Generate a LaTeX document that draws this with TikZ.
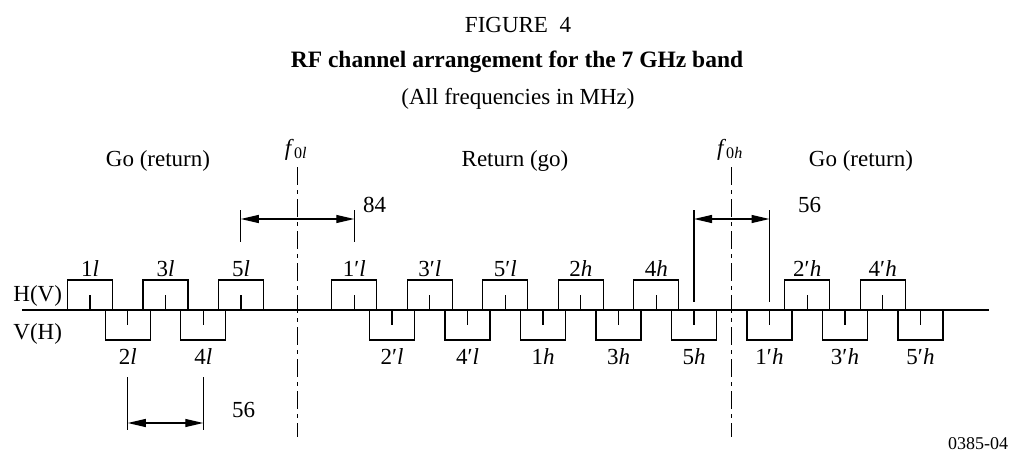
\documentclass[tikz,border=0pt]{standalone}
\usepackage{fontspec}
\setmainfont{Liberation Serif}
\usetikzlibrary{arrows.meta}
\begin{document}
\begin{tikzpicture}[x=1pt,y=-1pt,line width=1.2pt,
  every node/.style={inner sep=0pt,outer sep=0pt,font=\fontsize{23}{27}\selectfont},
  chbox/.style={draw,line width=1.2pt,minimum width=45pt,minimum height=30pt,inner sep=0pt},
  upbox/.style={chbox,anchor=south},
  downbox/.style={chbox,anchor=north},
  dimarrow/.style={{Triangle[length=18pt,width=8pt]}-{Triangle[length=18pt,width=8pt]}},
  axisdash/.style={dash pattern=on 18pt off 5pt on 4pt off 5pt},
  smalltxt/.style={font=\fontsize{18}{22}\selectfont}
]
\useasboundingbox (0,0) rectangle (1010,452);

% titles
\node[anchor=base] (fig) at (518,33) {FIGURE\ \ 4};
\node[anchor=base,font=\fontsize{23.5}{27}\selectfont\bfseries] (ttl) at (517,67) {RF channel arrangement for the 7 GHz band};
\node[anchor=base] (sub) at (518,104) {(All frequencies in MHz)};

% section headings
\node[anchor=base] (go1) at (158,166) {Go (return)};
\node[anchor=base] (ret) at (515,166) {Return (go)};
\node[anchor=base] (go2) at (861,166) {Go (return)};

% polarisation labels
\node[anchor=base east] (hv) at (62,301) {H(V)};
\node[anchor=base east] (vh) at (62,339) {V(H)};

% baseline
\coordinate (bl) at (22,310);
\coordinate (br) at (989,310);
\draw (bl) -- (br);

% upper channels
\foreach \k/\lab [count=\i] in {0/{1\textit{l}},2/{3\textit{l}},4/{5\textit{l}},7/{1′\textit{l}},9/{3′\textit{l}},11/{5′\textit{l}},13/{2\textit{h}},15/{4\textit{h}},19/{2′\textit{h}},21/{4′\textit{h}}}{
  \node[upbox] (u\i) at ({90+37.75*\k},310) {};
  \draw (u\i.south) -- ++(0,-15);
  \node[anchor=base] (ul\i) at ({90+37.75*\k},276) {\lab};
}
% lower channels
\foreach \k/\lab [count=\i] in {1/{2\textit{l}},3/{4\textit{l}},8/{2′\textit{l}},10/{4′\textit{l}},12/{1\textit{h}},14/{3\textit{h}},16/{5\textit{h}},18/{1′\textit{h}},20/{3′\textit{h}},22/{5′\textit{h}}}{
  \node[downbox] (d\i) at ({90+37.75*\k},310) {};
  \draw (d\i.north) -- ++(0,15);
  \node[anchor=base] (dl\i) at ({90+37.75*\k},364) {\lab};
}

% centre frequency axes
\coordinate (f0lt) at (297.5,167);
\coordinate (f0lb) at (297.5,437);
\coordinate (f0ht) at (731.75,167);
\coordinate (f0hb) at (731.75,437);
\draw[axisdash] (f0lt) -- (f0lb);
\draw[axisdash] (f0ht) -- (f0hb);
\node[anchor=base] (f0l) at (296,155) {\textit{f}\textsubscript{0\textit{l}}};
\node[anchor=base] (f0h) at (730,155) {\textit{f}\textsubscript{0\textit{h}}};

% dimension 84
\coordinate (a1) at (240.75,210); \coordinate (a2) at (240.75,242);
\coordinate (a3) at (354.25,210); \coordinate (a4) at (354.25,242);
\draw (a1) -- (a2);
\draw (a3) -- (a4);
\coordinate (a5) at (240.75,219); \coordinate (a6) at (354.25,219);
\draw[dimarrow] (a5) -- (a6);
\node[anchor=base west] (l84) at (363,212) {84};

% dimension 56 (lower left)
\coordinate (b1) at (127.75,377); \coordinate (b2) at (127.75,430);
\coordinate (b3) at (203.25,377); \coordinate (b4) at (203.25,430);
\draw (b1) -- (b2);
\draw (b3) -- (b4);
\coordinate (b5) at (127.75,423); \coordinate (b6) at (203.25,423);
\draw[dimarrow] (b5) -- (b6);
\node[anchor=base west] (l56a) at (232,417) {56};

% dimension 56 (right)
\coordinate (c1) at (694,210); \coordinate (c2) at (694,302);
\coordinate (c3) at (769.5,210); \coordinate (c4) at (769.5,302);
\draw (c1) -- (c2);
\draw (c3) -- (c4);
\coordinate (c5) at (694,219); \coordinate (c6) at (769.5,219);
\draw[dimarrow] (c5) -- (c6);
\node[anchor=base west] (l56b) at (798,212) {56};

% figure code
\node[anchor=base east,smalltxt] (code) at (1008,449) {0385-04};
\end{tikzpicture}
\end{document}
